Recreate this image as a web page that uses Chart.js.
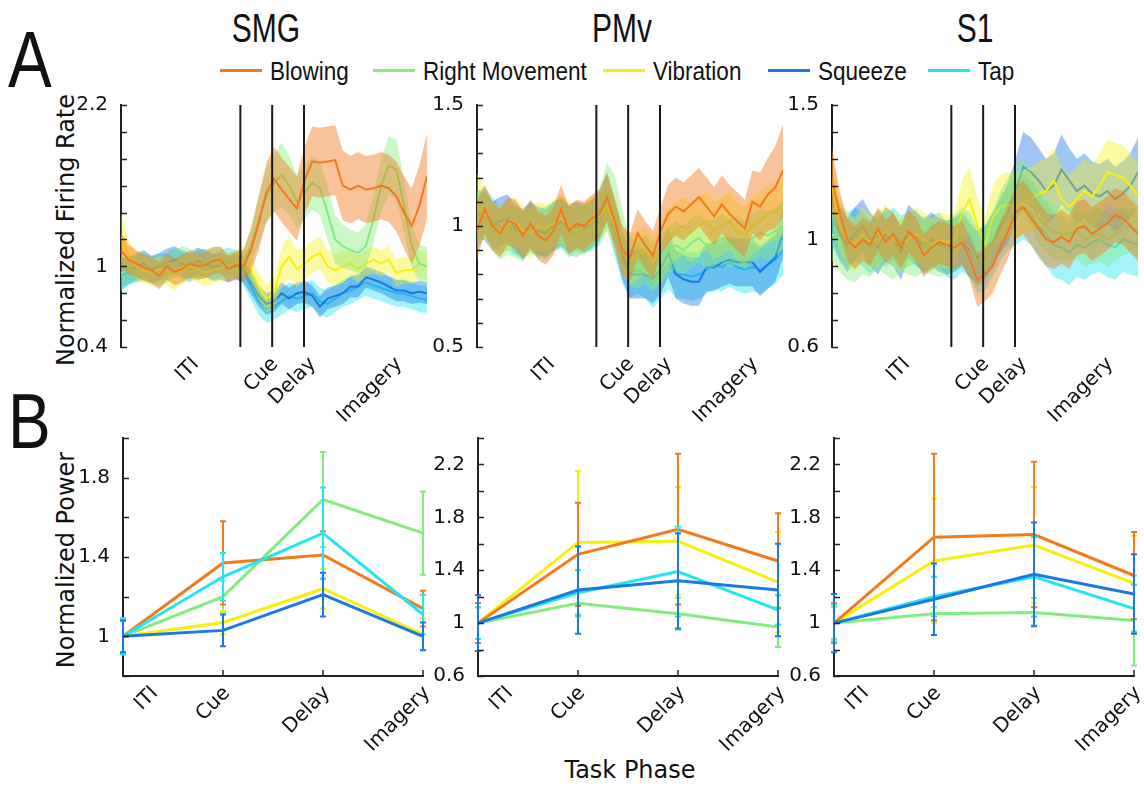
<!DOCTYPE html>
<html>
<head>
<meta charset="utf-8">
<title>Firing rate and power by task phase</title>
<script src="https://cdn.jsdelivr.net/npm/chart.js@4.4.1/dist/chart.umd.min.js"></script>
<style>
  body { margin: 0; background: #fff; }
  #fig { position: relative; width: 1144px; height: 786px; overflow: hidden; background: #fff;
         font-family: "DejaVu Sans", sans-serif; color: #111; }
  #fig canvas { position: absolute; }
  .txt { position: absolute; white-space: nowrap; line-height: 1; }
  .cond { font-family: "Liberation Sans", Arial, sans-serif; }
</style>
</head>
<body>
<div id="fig">
  <div class="txt cond" style="left:8px;top:20px;font-size:80px;transform:scaleX(0.82);transform-origin:0 0">A</div>
  <div class="txt cond" style="left:8px;top:382px;font-size:78px;transform:scaleX(0.82);transform-origin:0 0">B</div>
  <div class="txt" style="left:66px;top:230px;font-size:24px;transform:translate(-50%,-50%) rotate(-90deg)">Normalized Firing Rate</div>
  <div class="txt" style="left:66px;top:560px;font-size:24px;transform:translate(-50%,-50%) rotate(-90deg)">Normalized Power</div>
  <div class="txt" style="left:630px;top:770px;font-size:24px;transform:translate(-50%,-50%)">Task Phase</div>
</div>
<script>
// ---- labels ----
const regions = ["SMG", "PMv", "S1"];
const seriesNames = ["Blowing", "Right Movement", "Vibration", "Squeeze", "Tap"];
const phaseNames = ["ITI", "Cue", "Delay", "Imagery"];

// ---- panel A: time axis (s), phase boundaries, tick label spots ----
const timeAxis = [0,0.125,0.25,0.375,0.5,0.625,0.75,0.875,1,1.125,1.25,1.375,1.5,1.625,1.75,1.875,
  2,2.125,2.25,2.375,2.5,2.625,2.75,2.875,3,3.125,3.25,3.375,3.5,3.625,3.75,3.875,
  4,4.125,4.25,4.375,4.5,4.625,4.75,4.875,5];
const phaseBounds = [1.95, 2.47, 2.99];
const phaseLabelAt = [1.16, 2.45, 3.07, 4.48];

// ---- panel A y ticks ----
const smgRateTicks = [0.4,0.6,0.8,1,1.2,1.4,1.6,1.8,2,2.2];
const smgRateLabels = [0.4,1,2.2];
const pmvRateTicks = [0.5,0.6,0.7,0.8,0.9,1,1.1,1.2,1.3,1.4,1.5];
const pmvRateLabels = [0.5,1,1.5];
const s1RateTicks = [0.6,0.7,0.8,0.9,1,1.1,1.2,1.3,1.4,1.5];
const s1RateLabels = [0.6,1,1.5];

// ---- panel A: SMG mean firing rate and band half-width ----
const smgBlowing = [1.12,1.05,1.02,0.99,0.97,0.93,1.0,0.96,0.98,1.02,1.0,1.01,1.04,1.05,0.98,1.01,
  1.0,1.12,1.32,1.55,1.65,1.57,1.5,1.43,1.64,1.78,1.77,1.78,1.79,1.6,1.57,1.6,1.57,1.58,1.6,1.58,1.52,1.4,1.3,1.45,1.67];
const smgBlowingSem = [0.13,0.11,0.1,0.1,0.1,0.1,0.1,0.1,0.1,0.1,0.1,0.1,0.1,0.1,0.1,0.1,
  0.12,0.16,0.2,0.22,0.24,0.24,0.24,0.24,0.25,0.26,0.26,0.26,0.26,0.26,0.25,0.25,0.25,0.25,0.25,0.25,0.26,0.27,0.28,0.3,0.32];
const smgRightMove = [0.95,0.97,0.98,1.0,0.97,0.95,0.98,1.02,1.05,1.03,1.0,1.02,1.05,1.04,1.0,1.02,
  1.02,1.15,1.35,1.52,1.62,1.68,1.6,1.48,1.55,1.62,1.58,1.4,1.2,1.15,1.12,1.1,1.15,1.35,1.6,1.75,1.72,1.45,1.15,1.02,1.0];
const smgRightMoveSem = [0.12,0.1,0.1,0.1,0.1,0.1,0.1,0.1,0.1,0.1,0.1,0.1,0.1,0.1,0.1,0.1,
  0.1,0.14,0.18,0.2,0.22,0.24,0.22,0.2,0.2,0.2,0.2,0.2,0.18,0.16,0.15,0.15,0.16,0.18,0.2,0.22,0.22,0.2,0.16,0.14,0.14];
const smgVibration = [1.22,1.08,1.0,0.97,0.95,0.98,0.96,0.92,0.97,1.0,0.98,0.95,0.97,0.99,1.0,1.02,
  1.05,0.97,0.85,0.76,0.8,1.0,1.07,0.98,1.02,1.07,1.1,1.0,0.97,1.0,1.02,0.98,1.02,1.05,1.02,1.05,0.95,0.97,0.97,1.02,1.0];
const smgVibrationSem = [0.18,0.12,0.1,0.1,0.1,0.1,0.1,0.1,0.1,0.1,0.1,0.1,0.1,0.1,0.1,0.1,
  0.1,0.1,0.1,0.1,0.12,0.14,0.16,0.14,0.12,0.12,0.12,0.12,0.12,0.12,0.1,0.1,0.1,0.1,0.1,0.1,0.1,0.1,0.1,0.1,0.1];
const smgSqueeze = [0.95,0.97,1.0,1.02,0.98,1.0,1.03,1.05,1.02,1.0,1.04,1.02,0.99,1.0,0.98,1.0,
  0.98,0.88,0.78,0.72,0.74,0.8,0.76,0.8,0.81,0.78,0.7,0.76,0.78,0.8,0.85,0.85,0.92,0.9,0.88,0.85,0.82,0.82,0.8,0.81,0.8];
const smgSqueezeSem = [0.12,0.1,0.1,0.1,0.1,0.1,0.1,0.1,0.1,0.1,0.1,0.1,0.1,0.1,0.1,0.1,
  0.1,0.09,0.08,0.08,0.08,0.08,0.08,0.08,0.08,0.08,0.08,0.08,0.08,0.08,0.08,0.08,0.08,0.08,0.08,0.08,0.08,0.08,0.08,0.08,0.08];
const smgTap = [0.93,0.96,0.98,1.0,0.97,0.99,1.0,1.03,1.0,0.98,1.02,1.03,1.0,1.02,1.04,1.02,
  0.96,0.85,0.74,0.68,0.7,0.74,0.78,0.76,0.78,0.8,0.74,0.72,0.76,0.8,0.82,0.85,0.88,0.86,0.84,0.82,0.8,0.8,0.78,0.76,0.75];
const smgTapSem = [0.12,0.1,0.1,0.1,0.1,0.1,0.1,0.1,0.1,0.1,0.1,0.1,0.1,0.1,0.1,0.1,
  0.1,0.1,0.1,0.1,0.1,0.1,0.1,0.1,0.1,0.1,0.1,0.1,0.1,0.1,0.1,0.1,0.1,0.1,0.1,0.1,0.1,0.1,0.1,0.1,0.1];

// ---- panel A: PMv ----
const pmvBlowing = [0.98,1.07,1.0,0.97,1.02,1.01,0.96,1.01,0.96,0.94,0.98,1.07,0.98,1.01,1.0,1.03,
  1.05,1.12,1.02,0.9,0.87,0.97,0.92,0.88,0.98,1.05,1.08,1.06,1.09,1.12,1.08,1.04,1.09,1.05,1.02,0.99,1.1,1.08,1.13,1.16,1.23];
const pmvBlowingSem = [0.12,0.1,0.1,0.1,0.1,0.1,0.1,0.1,0.1,0.1,0.1,0.1,0.1,0.1,0.1,0.1,
  0.1,0.1,0.1,0.1,0.1,0.1,0.1,0.1,0.1,0.12,0.12,0.12,0.12,0.12,0.12,0.12,0.12,0.12,0.12,0.12,0.13,0.14,0.15,0.17,0.19];
const pmvRightMove = [1.02,1.06,1.0,0.96,0.98,0.97,0.95,1.0,0.97,0.96,0.99,1.01,0.97,0.99,0.98,1.0,
  1.05,1.13,1.08,0.95,0.85,0.84,0.86,0.83,0.86,0.9,0.92,0.9,0.93,0.95,0.92,0.93,0.95,0.93,0.94,0.92,0.95,0.97,0.96,0.98,1.0];
const pmvRightMoveSem = [0.12,0.1,0.1,0.1,0.1,0.1,0.1,0.1,0.1,0.1,0.1,0.1,0.1,0.1,0.1,0.1,
  0.11,0.13,0.13,0.12,0.1,0.1,0.1,0.1,0.1,0.1,0.1,0.1,0.1,0.1,0.1,0.1,0.1,0.1,0.1,0.1,0.1,0.1,0.1,0.1,0.1];
const pmvVibration = [1.08,1.05,1.0,0.98,1.0,1.02,0.98,0.97,1.0,0.99,1.01,1.03,1.0,0.98,1.0,1.02,
  1.04,1.08,1.0,0.9,0.86,0.88,0.9,0.85,0.9,0.95,0.98,1.0,0.97,1.0,1.02,0.98,1.0,1.02,0.98,0.96,1.0,1.02,1.05,1.06,1.08];
const pmvVibrationSem = [0.14,0.1,0.1,0.1,0.1,0.1,0.1,0.1,0.1,0.1,0.1,0.1,0.1,0.1,0.1,0.1,
  0.1,0.1,0.1,0.1,0.1,0.1,0.1,0.1,0.12,0.12,0.12,0.12,0.12,0.12,0.12,0.12,0.12,0.12,0.12,0.12,0.12,0.12,0.12,0.12,0.12];
const pmvSqueeze = [1.05,1.04,1.0,1.02,1.03,0.99,0.97,1.0,0.98,0.97,1.0,1.02,0.99,1.0,0.99,1.01,
  1.04,1.12,1.0,0.88,0.8,0.8,0.8,0.78,0.82,0.89,0.8,0.78,0.77,0.77,0.83,0.83,0.85,0.86,0.85,0.85,0.85,0.81,0.84,0.87,0.97];
const pmvSqueezeSem = [0.1,0.1,0.1,0.1,0.1,0.1,0.1,0.1,0.1,0.1,0.1,0.1,0.1,0.1,0.1,0.1,
  0.1,0.1,0.1,0.1,0.1,0.1,0.1,0.1,0.1,0.1,0.1,0.1,0.1,0.1,0.1,0.1,0.1,0.1,0.1,0.1,0.1,0.1,0.1,0.1,0.1];
const pmvTap = [1.0,1.06,1.02,0.98,1.0,0.98,0.96,0.99,0.97,0.98,1.0,1.01,0.98,0.97,0.99,1.0,
  1.02,1.08,0.98,0.86,0.8,0.82,0.8,0.76,0.8,0.84,0.8,0.8,0.79,0.8,0.82,0.84,0.83,0.85,0.83,0.82,0.83,0.82,0.84,0.86,0.9];
const pmvTapSem = [0.1,0.1,0.1,0.1,0.1,0.1,0.1,0.1,0.1,0.1,0.1,0.1,0.1,0.1,0.1,0.1,
  0.1,0.1,0.1,0.1,0.1,0.1,0.1,0.1,0.1,0.1,0.1,0.1,0.1,0.1,0.1,0.1,0.1,0.1,0.1,0.1,0.1,0.1,0.1,0.1,0.1];

// ---- panel A: S1 ----
const s1Blowing = [1.22,1.1,1.0,0.97,1.0,0.98,1.04,0.99,1.02,0.97,1.03,1.0,0.94,0.97,0.99,0.98,
  0.97,0.99,0.93,0.85,0.87,0.9,0.97,1.03,1.1,1.12,1.08,1.04,1.0,0.99,1.01,0.99,1.04,1.05,1.02,1.04,1.06,1.09,1.08,1.05,1.02];
const s1BlowingSem = [0.12,0.08,0.08,0.08,0.08,0.08,0.08,0.08,0.08,0.08,0.08,0.08,0.08,0.08,0.08,0.08,
  0.08,0.08,0.08,0.1,0.1,0.1,0.1,0.1,0.1,0.1,0.1,0.1,0.1,0.1,0.1,0.1,0.1,0.1,0.1,0.1,0.1,0.1,0.1,0.1,0.1];
const s1RightMove = [1.02,0.98,0.95,0.94,0.97,0.96,0.99,0.97,0.95,0.98,0.97,0.96,0.98,0.97,0.96,0.97,
  0.98,1.0,0.97,0.92,0.95,1.0,1.08,1.13,1.18,1.2,1.15,1.08,1.05,1.03,1.02,1.02,1.03,1.0,1.01,1.02,1.0,1.02,1.04,1.05,1.03];
const s1RightMoveSem = [0.1,0.1,0.1,0.1,0.1,0.1,0.1,0.1,0.1,0.1,0.1,0.1,0.1,0.1,0.1,0.1,
  0.1,0.1,0.1,0.1,0.1,0.1,0.1,0.1,0.1,0.1,0.1,0.1,0.1,0.1,0.1,0.1,0.1,0.1,0.1,0.1,0.1,0.1,0.1,0.1,0.1];
const s1Vibration = [1.2,1.05,1.0,0.98,1.02,0.99,1.0,1.03,1.0,0.98,1.0,1.02,1.0,0.98,1.0,0.99,
  1.0,1.1,1.15,1.05,0.98,1.08,1.12,1.13,1.12,1.14,1.15,1.17,1.18,1.22,1.15,1.12,1.15,1.18,1.16,1.2,1.25,1.24,1.23,1.2,1.16];
const s1VibrationSem = [0.12,0.1,0.1,0.1,0.1,0.1,0.1,0.1,0.1,0.1,0.1,0.1,0.1,0.1,0.1,0.1,
  0.1,0.12,0.12,0.1,0.1,0.12,0.12,0.12,0.12,0.12,0.12,0.12,0.12,0.12,0.12,0.12,0.12,0.12,0.12,0.12,0.12,0.12,0.12,0.12,0.12];
const s1Squeeze = [1.08,1.02,0.98,1.02,1.05,1.0,0.97,1.02,1.0,0.95,1.03,1.0,0.98,1.0,0.98,0.97,
  0.98,1.0,0.96,0.93,0.95,1.0,1.05,1.1,1.18,1.27,1.25,1.22,1.18,1.2,1.26,1.22,1.18,1.2,1.17,1.16,1.18,1.15,1.17,1.2,1.25];
const s1SqueezeSem = [0.1,0.1,0.1,0.1,0.1,0.1,0.1,0.1,0.1,0.1,0.1,0.1,0.1,0.1,0.1,0.1,
  0.1,0.1,0.1,0.1,0.1,0.1,0.1,0.11,0.12,0.13,0.13,0.12,0.12,0.12,0.13,0.12,0.12,0.12,0.12,0.12,0.12,0.12,0.12,0.12,0.13];
const s1Tap = [1.1,1.03,1.0,1.02,1.0,0.97,1.01,1.0,1.02,0.99,1.0,1.01,0.97,0.99,1.0,0.96,
  0.97,1.0,0.98,0.92,0.93,0.98,1.04,1.08,1.1,1.12,1.1,1.05,1.02,0.98,0.97,0.95,0.98,0.97,0.99,1.0,0.98,0.97,1.0,0.99,0.98];
const s1TapSem = [0.1,0.1,0.1,0.1,0.1,0.1,0.1,0.1,0.1,0.1,0.1,0.1,0.1,0.1,0.1,0.1,
  0.12,0.12,0.12,0.12,0.12,0.12,0.12,0.12,0.12,0.12,0.12,0.12,0.12,0.12,0.12,0.12,0.12,0.12,0.12,0.12,0.12,0.12,0.12,0.12,0.12];

// ---- panel B y ticks ----
const smgPowerTicks = [0.8,1,1.2,1.4,1.6,1.8,2];
const smgPowerLabels = [1,1.4,1.8];
const widePowerTicks = [0.6,0.8,1,1.2,1.4,1.6,1.8,2,2.2,2.4];
const widePowerLabels = [0.6,1,1.4,1.8,2.2];

// ---- panel B: normalized power per phase, with error ----
const smgPowBlowing = [1, 1.37, 1.41, 1.14],   smgErrBlowing = [0.08, 0.21, 0.12, 0.09];
const smgPowRightMove = [1, 1.2, 1.69, 1.52],  smgErrRightMove = [0.09, 0.08, 0.24, 0.21];
const smgPowVibration = [1, 1.07, 1.24, 1.01], smgErrVibration = [0.09, 0.06, 0.1, 0.08];
const smgPowSqueeze = [1, 1.03, 1.21, 1.0],    smgErrSqueeze = [0.08, 0.08, 0.11, 0.07];
const smgPowTap = [1, 1.3, 1.52, 1.11],        smgErrTap = [0.09, 0.12, 0.23, 0.1];

const pmvPowBlowing = [1, 1.52, 1.71, 1.47],   pmvErrBlowing = [0.15, 0.39, 0.57, 0.36];
const pmvPowRightMove = [1, 1.15, 1.07, 0.97], pmvErrRightMove = [0.12, 0.1, 0.12, 0.15];
const pmvPowVibration = [1, 1.61, 1.62, 1.31], pmvErrVibration = [0.15, 0.54, 0.41, 0.38];
const pmvPowSqueeze = [1, 1.25, 1.32, 1.25],   pmvErrSqueeze = [0.21, 0.33, 0.36, 0.35];
const pmvPowTap = [1, 1.23, 1.39, 1.1],        pmvErrTap = [0.12, 0.17, 0.34, 0.11];

const s1PowBlowing = [1, 1.65, 1.67, 1.36],    s1ErrBlowing = [0.15, 0.63, 0.55, 0.33];
const s1PowRightMove = [1, 1.07, 1.08, 1.02],  s1ErrRightMove = [0.12, 0.05, 0.11, 0.34];
const s1PowVibration = [1, 1.47, 1.59, 1.3],   s1ErrVibration = [0.15, 0.47, 0.44, 0.36];
const s1PowSqueeze = [1, 1.18, 1.37, 1.22],    s1ErrSqueeze = [0.22, 0.27, 0.39, 0.3];
const s1PowTap = [1, 1.2, 1.35, 1.11],         s1ErrTap = [0.14, 0.15, 0.3, 0.18];

// ---- styling ----
const seriesColors = ["#f27a1c", "#82ec7e", "#f7ef0c", "#1c78e4", "#22e4f2"];
const bandColors = ["rgba(242,122,28,0.45)", "rgba(130,236,126,0.42)", "rgba(247,239,12,0.38)",
                    "rgba(28,120,228,0.42)", "rgba(34,228,242,0.42)"];
// the ITI name in panel B sits right of its tick in the original
const powerLabelShift = [28, 0, 0, 0];

const rateMeans = [
  [smgBlowing, smgRightMove, smgVibration, smgSqueeze, smgTap],
  [pmvBlowing, pmvRightMove, pmvVibration, pmvSqueeze, pmvTap],
  [s1Blowing, s1RightMove, s1Vibration, s1Squeeze, s1Tap]
];
const rateSems = [
  [smgBlowingSem, smgRightMoveSem, smgVibrationSem, smgSqueezeSem, smgTapSem],
  [pmvBlowingSem, pmvRightMoveSem, pmvVibrationSem, pmvSqueezeSem, pmvTapSem],
  [s1BlowingSem, s1RightMoveSem, s1VibrationSem, s1SqueezeSem, s1TapSem]
];
const rateAxes = [
  { min: 0.4, max: 2.2, ticks: smgRateTicks, labels: smgRateLabels },
  { min: 0.5, max: 1.5, ticks: pmvRateTicks, labels: pmvRateLabels },
  { min: 0.6, max: 1.5, ticks: s1RateTicks, labels: s1RateLabels }
];
const powerMeans = [
  [smgPowBlowing, smgPowRightMove, smgPowVibration, smgPowSqueeze, smgPowTap],
  [pmvPowBlowing, pmvPowRightMove, pmvPowVibration, pmvPowSqueeze, pmvPowTap],
  [s1PowBlowing, s1PowRightMove, s1PowVibration, s1PowSqueeze, s1PowTap]
];
const powerErrs = [
  [smgErrBlowing, smgErrRightMove, smgErrVibration, smgErrSqueeze, smgErrTap],
  [pmvErrBlowing, pmvErrRightMove, pmvErrVibration, pmvErrSqueeze, pmvErrTap],
  [s1ErrBlowing, s1ErrRightMove, s1ErrVibration, s1ErrSqueeze, s1ErrTap]
];
const powerAxes = [
  { min: 0.8, max: 2.0, ticks: smgPowerTicks, labels: smgPowerLabels },
  { min: 0.6, max: 2.4, ticks: widePowerTicks, labels: widePowerLabels },
  { min: 0.6, max: 2.4, ticks: widePowerTicks, labels: widePowerLabels }
];

// first in list ends up on top
const rateOrder = [0, 1, 2, 3, 4];
const powerOrder = [3, 4, 0, 2, 1];

Chart.defaults.font.family = '"DejaVu Sans", sans-serif';
Chart.defaults.color = '#111';
Chart.defaults.animation = false;

const fig = document.getElementById("fig");

function addCanvas(left, top, w, h) {
  const c = document.createElement("canvas");
  c.width = w; c.height = h;
  c.style.left = left + "px"; c.style.top = top + "px";
  c.style.width = w + "px"; c.style.height = h + "px";
  fig.appendChild(c);
  return c;
}

function addText(str, left, top, style) {
  const d = document.createElement("div");
  d.className = "txt";
  d.textContent = str;
  d.style.left = left + "px";
  d.style.top = top + "px";
  Object.assign(d.style, style || {});
  fig.appendChild(d);
  return d;
}

// --- titles ---
const titleCenters = [266, 622, 975];
regions.forEach((r, i) => {
  const d = addText(r, titleCenters[i], 8, { fontSize: "40px", transform: "translateX(-50%) scaleX(0.75)", transformOrigin: "50% 0" });
  d.classList.add("cond");
});

// --- legend ---
const legendX = [220, 373, 603, 768, 928];
seriesNames.forEach((name, i) => {
  const ln = document.createElement("div");
  ln.style.cssText = `position:absolute;left:${legendX[i]}px;top:69px;width:42px;height:3px;background:${seriesColors[i]}`;
  fig.appendChild(ln);
  const t = addText(name, legendX[i] + 50, 59, { fontSize: "25px", transform: "scaleX(0.9)", transformOrigin: "0 0" });
  t.classList.add("cond");
});

// --- plugins ---
// inward tick marks, phase divider lines and 45 degree phase labels
const axisDecor = {
  id: "axisDecor",
  afterDraw(chart, args, opts) {
    const { ctx, chartArea: a, scales: { x, y } } = chart;
    const base = y.getPixelForValue(y.min);
    ctx.save();
    ctx.strokeStyle = "#222";
    ctx.lineWidth = 1.5;
    y.ticks.forEach(t => {
      const py = Math.round(y.getPixelForValue(t.value)) + 0.5;
      ctx.beginPath(); ctx.moveTo(a.left, py); ctx.lineTo(a.left + 6, py); ctx.stroke();
    });
    if (opts.xTicks) {
      phaseNames.forEach((p, i) => {
        if (i === 0) return;
        const px = x.getPixelForValue(i);
        ctx.beginPath(); ctx.moveTo(px, base); ctx.lineTo(px, base - 6); ctx.stroke();
      });
    }
    if (opts.phaseLines) {
      ctx.strokeStyle = "#1a1a1a";
      ctx.lineWidth = 2;
      opts.phaseLines.forEach(v => {
        const px = x.getPixelForValue(v);
        ctx.beginPath(); ctx.moveTo(px, a.top); ctx.lineTo(px, base); ctx.stroke();
      });
    }
    // phase names, rotated, right end anchored at the tick
    ctx.fillStyle = "#111";
    ctx.font = '20px "DejaVu Sans", sans-serif';
    ctx.textAlign = "right";
    ctx.textBaseline = "top";
    phaseNames.forEach((p, i) => {
      let px = opts.labelAt ? x.getPixelForValue(opts.labelAt[i]) : x.getPixelForValue(i);
      if (opts.shift) px += opts.shift[i];
      ctx.save();
      ctx.translate(px - 3, base + 7);
      ctx.rotate(-Math.PI / 4);
      ctx.fillText(p, 0, 0);
      ctx.restore();
    });
    ctx.restore();
  }
};

const errorBars = {
  id: "errorBars",
  afterDatasetDraw(chart, args) {
    const ds = chart.data.datasets[args.index];
    if (!ds.err) return;
    const { ctx, scales: { x, y } } = chart;
    ctx.save();
    ctx.strokeStyle = ds.borderColor;
    ctx.lineWidth = 2;
    ds.data.forEach((v, i) => {
      const px = x.getPixelForValue(i);
      const top = y.getPixelForValue(v + ds.err[i]);
      const bot = y.getPixelForValue(v - ds.err[i]);
      ctx.beginPath();
      ctx.moveTo(px, top); ctx.lineTo(px, bot);
      ctx.moveTo(px - 3, top); ctx.lineTo(px + 3, top);
      ctx.moveTo(px - 3, bot); ctx.lineTo(px + 3, bot);
      ctx.stroke();
    });
    ctx.restore();
  }
};

function yAxis(ax) {
  return {
    min: ax.min, max: ax.max,
    grid: { display: false },
    border: { display: true, color: "#222", width: 2 },
    ticks: {
      font: { size: 20 }, color: "#111", padding: 5, autoSkip: false,
      callback: v => ax.labels.includes(v) ? String(v) : ""
    },
    afterBuildTicks: s => { s.ticks = ax.ticks.map(v => ({ value: v })); },
    afterFit: s => { s.width = 70; s.paddingTop = 0; s.paddingBottom = 0; }
  };
}

// --- panel A charts ---
const rateX0 = [121, 477, 832];
rateX0.forEach((x0, r) => {
  const canvas = addCanvas(x0 - 70, 85, 70 + 306 + 12, 360);
  const datasets = [];
  rateOrder.forEach(s => {
    const m = rateMeans[r][s], e = rateSems[r][s];
    datasets.push({
      data: timeAxis.map((t, i) => ({ x: t, y: m[i] })),
      borderColor: seriesColors[s], borderWidth: 2, pointRadius: 0, fill: false, tension: 0
    });
    datasets.push({
      data: timeAxis.map((t, i) => ({ x: t, y: m[i] + e[i] })),
      borderWidth: 0, pointRadius: 0, backgroundColor: bandColors[s], fill: "+1", tension: 0
    });
    datasets.push({
      data: timeAxis.map((t, i) => ({ x: t, y: m[i] - e[i] })),
      borderWidth: 0, pointRadius: 0, fill: false, tension: 0
    });
  });
  new Chart(canvas, {
    type: "line",
    data: { datasets },
    options: {
      responsive: false,
      layout: { padding: { top: 20, right: 12, left: 0, bottom: 0 } },
      plugins: {
        legend: { display: false }, tooltip: { enabled: false },
        axisDecor: { phaseLines: phaseBounds, labelAt: phaseLabelAt }
      },
      scales: {
        x: {
          type: "linear", min: 0, max: 5,
          grid: { display: false }, border: { display: false },
          ticks: { display: false },
          afterFit: s => { s.height = 98; s.paddingLeft = 0; s.paddingRight = 0; }
        },
        y: yAxis(rateAxes[r])
      }
    },
    plugins: [axisDecor]
  });
});

// --- panel B charts ---
const powerX0 = [123, 478, 834];
powerX0.forEach((x0, r) => {
  const canvas = addCanvas(x0 - 70, 418, 70 + 300 + 12, 343);
  const datasets = powerOrder.map(s => ({
    data: powerMeans[r][s], err: powerErrs[r][s],
    borderColor: seriesColors[s], borderWidth: 3, pointRadius: 0, fill: false, clip: false, tension: 0
  }));
  new Chart(canvas, {
    type: "line",
    data: { labels: phaseNames, datasets },
    options: {
      responsive: false,
      layout: { padding: { top: 20, right: 12, left: 0, bottom: 0 } },
      plugins: {
        legend: { display: false }, tooltip: { enabled: false },
        axisDecor: { xTicks: true, shift: powerLabelShift }
      },
      scales: {
        x: {
          type: "category", offset: false,
          grid: { display: false }, border: { display: true, color: "#222", width: 2 },
          ticks: { display: false },
          afterFit: s => { s.height = 85; s.paddingLeft = 0; s.paddingRight = 0; }
        },
        y: yAxis(powerAxes[r])
      }
    },
    plugins: [axisDecor, errorBars]
  });
});
</script>
</body>
</html>
